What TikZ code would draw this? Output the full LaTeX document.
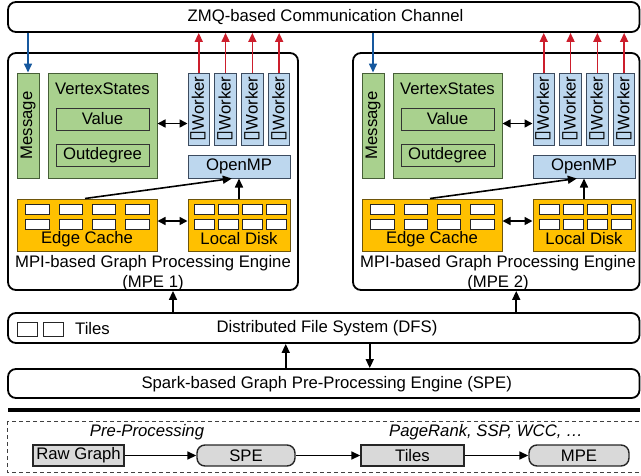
\documentclass[tikz,border=0pt]{standalone}
\usepackage{fontspec}
\usepackage{graphicx}
\setmainfont{Liberation Sans}
\newfontfamily\djv{DejaVu Sans}
\usetikzlibrary{arrows.meta,calc}
\definecolor{gfill}{RGB}{169,209,142}
\definecolor{gline}{RGB}{70,95,55}
\definecolor{bfill}{RGB}{189,215,238}
\definecolor{bline}{RGB}{60,75,95}
\definecolor{ofill}{RGB}{255,192,0}
\definecolor{oline}{RGB}{110,85,10}
\definecolor{bluearr}{RGB}{22,88,158}
\definecolor{redarr}{RGB}{204,30,44}
\definecolor{grayfill}{RGB}{217,217,217}
\newcommand\place[7]{\node[#1, minimum width={(#5)-(#3)}, minimum height={(#6)-(#4)}, inner sep=0pt] (#2) at ({((#3)+(#5))/2},{((#4)+(#6))/2}) {#7};}
\tikzset{
  outer/.style={draw=black, line width=1.8pt, rounded corners=8pt, fill=white},
  gbox/.style={draw=gline, fill=gfill, line width=1pt},
  ginner/.style={draw=black!80, fill=gfill, line width=1pt},
  bbox/.style={draw=bline, fill=bfill, line width=1pt},
  obox/.style={draw=oline, fill=ofill, line width=1pt},
  cell/.style={draw=black!85, fill=white, line width=0.9pt},
  arr/.style={line width=1.6pt, -{Triangle[length=9pt,width=8pt]}},
  dbl/.style={line width=1.6pt, {Triangle[length=8pt,width=8pt]}-{Triangle[length=8pt,width=8pt]}},
  bottombox/.style={draw=black!85, fill=grayfill, line width=1.4pt},
  lbl/.style={inner sep=0pt},
}
\newcommand\mpe[4]{%
  \place{outer}{#2box}{8+#1}{53}{#4}{290}{}
  \node[lbl, anchor=base] (#2lbla) at ({153+#1},267) {MPI-based Graph Processing Engine};
  \node[lbl, anchor=base] (#2lblb) at ({153+#1},287) {(MPE #3)};
  \place{gbox}{#2msg}{17+#1}{73}{39+#1}{178}{\rotatebox{90}{Message}}
  \place{gbox}{#2vs}{48+#1}{73}{157+#1}{178}{}
  \node[lbl] (#2vst) at ({102.5+#1},89) {VertexStates};
  \place{ginner}{#2val}{56+#1}{108}{149+#1}{130}{Value}
  \place{ginner}{#2out}{56+#1}{144}{149+#1}{166}{Outdegree}
  \foreach \i in {1,...,4}{
    \pgfmathsetmacro\wa{188+26.8*(\i-1)+#1}
    \pgfmathsetmacro\wb{\wa+21.5}
    \place{bbox}{#2w\i}{\wa}{73}{\wb}{145}{\rotatebox{90}{{\djv\fontsize{20}{20}\selectfont ▯}Worker}}
    \draw[arr, redarr] (#2w\i.north) -- (#2w\i.north |- zmq.south);
  }
  \place{bbox}{#2omp}{188+#1}{155}{290+#1}{178}{OpenMP}
  \place{obox}{#2ec}{17+#1}{199}{157+#1}{251}{}
  \place{obox}{#2ld}{188+#1}{199}{290+#1}{251}{}
  \node[lbl] (#2ect) at ({87+#1},239) {Edge Cache};
  \node[lbl] (#2ldt) at ({239+#1},239) {Local Disk};
  \foreach \k in {0,...,3}{
    \foreach \yy in {204.5,219.5}{
      \draw[cell] ({25.7+33.3*\k+#1},\yy) rectangle ++(23.6,10);
      \draw[cell] ({194+24.2*\k+#1},\yy) rectangle ++(20,10);
    }}
  \draw[arr, bluearr] (#2msg.north |- zmq.south) -- (#2msg.north);
  \draw[dbl] ([yshift=2pt]#2vs.east) -- ([yshift=2pt]#2vs.east -| #2w1.west);
  \draw[dbl] ([yshift=4pt]#2ec.east) -- ([yshift=4pt]#2ec.east -| #2ld.west);
  \draw[arr] ($(#2ec.north west)!0.486!(#2ec.north east)$) -- ($(#2omp.south west)!0.43!(#2omp.south east)$);
  \draw[arr] (#2ld.north) -- (#2omp.south);
  \draw[arr] ([xshift=20pt]dfs.north -| #2box.south) -- ([xshift=20pt]#2box.south);
}
\begin{document}
\begin{tikzpicture}[x=1pt,y=-1pt, font=\fontsize{16.7}{20}\selectfont]
\useasboundingbox (0,0) rectangle (641,475);
\place{outer}{zmq}{8}{2}{639.5}{32}{}
\node[lbl] (zmqt) at (325.5,17) {ZMQ-based Communication Channel};
\place{outer}{dfs}{8}{313}{639.5}{343}{}
\node[lbl] (dfst) at (327,328) {Distributed File System (DFS)};
\draw[cell, line width=1pt] (17,322) rectangle (37,336);
\draw[cell, line width=1pt] (43,322) rectangle (63,336);
\node[lbl, anchor=west] (tilest) at (75,329) {Tiles};
\place{outer}{spe}{8}{369}{639.5}{398}{}
\node[lbl] (spet) at (326.7,384) {Spark-based Graph Pre-Processing Engine (SPE)};
\mpe{0}{A}{1}{298}
\mpe{345}{B}{2}{639.5}
\draw[arr] ([xshift=-38pt]spe.north) -- ([xshift=-38pt]dfs.south);
\draw[arr] ([xshift=46pt]dfs.south) -- ([xshift=46pt]spe.north);
\draw[line width=3.5pt] (8,410) -- (639.5,410);
\draw[dashed, dash pattern=on 4pt off 3pt, line width=1pt, black!75] (7,421) rectangle (650,472);
\node[lbl, font=\fontsize{16.7}{20}\selectfont\itshape] (pp) at (147,432) {Pre-Processing};
\node[lbl, font=\fontsize{16.7}{20}\selectfont\itshape] (pr) at (486,432) {PageRank, SSP, WCC, …};
\place{bottombox}{raw}{33}{445}{124}{466}{Raw Graph}
\place{bottombox, rounded corners=8pt}{bspe}{197}{445}{295}{466}{SPE}
\place{bottombox}{btiles}{361}{445}{464}{466}{Tiles}
\place{bottombox, rounded corners=8pt}{bmpe}{529}{445}{629}{466}{MPE}
\draw[arr] (raw.east) -- (bspe.west);
\draw[arr] (bspe.east) -- (btiles.west);
\draw[arr] (btiles.east) -- (bmpe.west);
\end{tikzpicture}
\end{document}
